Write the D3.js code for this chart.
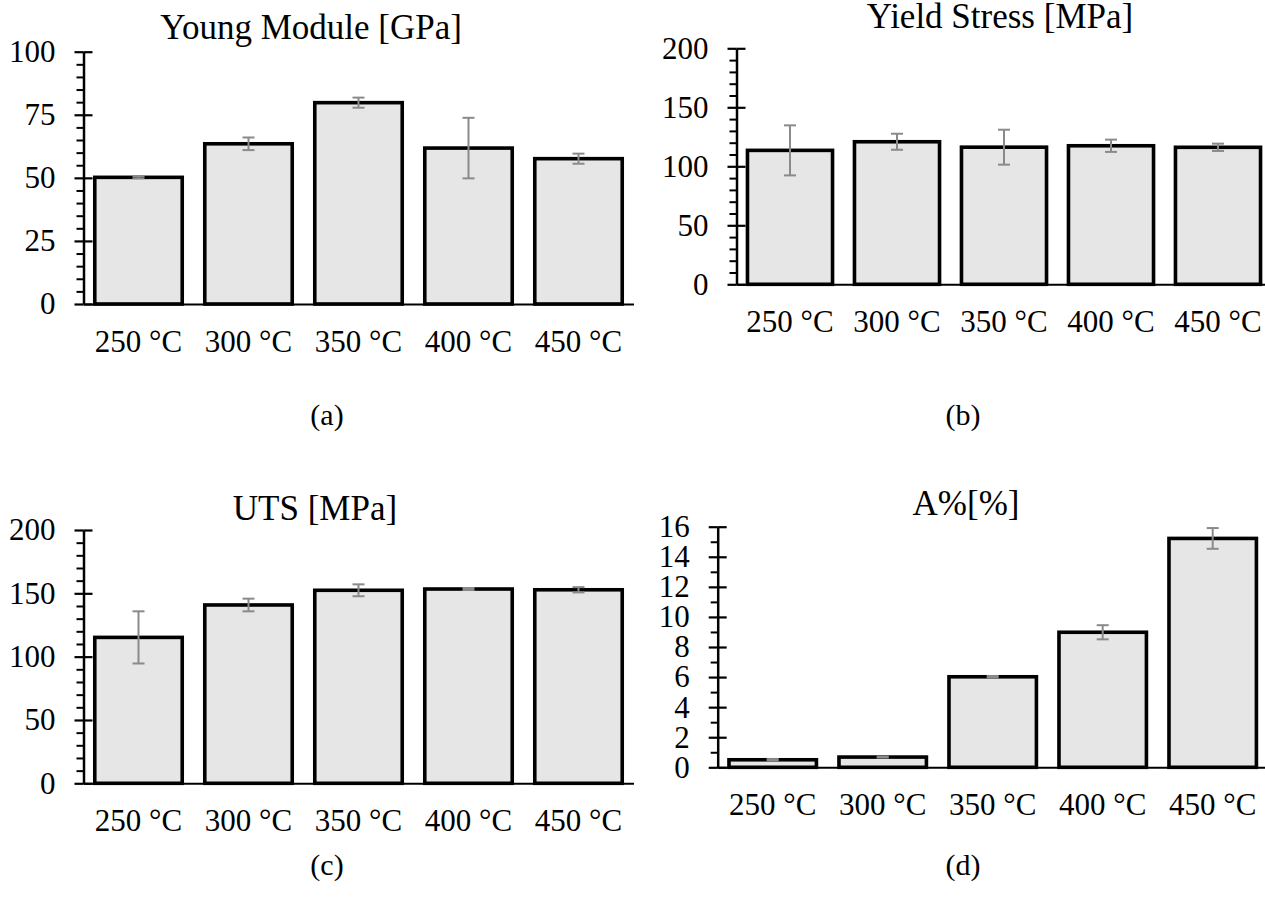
<!DOCTYPE html>
<html><head><meta charset="utf-8">
<script src="https://cdn.jsdelivr.net/npm/d3@7"></script>
<style>
html,body{margin:0;padding:0;background:#fff;}
svg{display:block;}
text{font-family:"Liberation Serif","Times New Roman",serif;fill:#000;}
</style></head>
<body>
<svg id="c" width="1265" height="913"></svg>
<script>
const categories = ["250 °C","300 °C","350 °C","400 °C","450 °C"];

const youngValues = [50.2, 63.5, 79.8, 61.8, 57.6];
const youngErrors = [0.4, 2.5, 2.0, 12.0, 2.0];
const youngTicks = [0, 25, 50, 75, 100];

const yieldValues = [113.5, 120.8, 116.2, 117.4, 116.1];
const yieldErrors = [21.2, 6.8, 14.8, 5.2, 3.1];
const yieldTicks = [0, 50, 100, 150, 200];

const utsValues = [115.2, 140.8, 152.4, 153.4, 152.8];
const utsErrors = [20.6, 5.0, 4.7, 0.8, 2.1];
const utsTicks = [0, 50, 100, 150, 200];

const elongValues = [0.5, 0.68, 6.02, 8.98, 15.22];
const elongErrors = [0.05, 0.03, 0.05, 0.47, 0.69];
const elongTicks = [0, 2, 4, 6, 8, 10, 12, 14, 16];

const panels = [
  {title:"Young Module [GPa]", values:youngValues, errors:youngErrors, ticks:youngTicks, minorStep:5,
   x0:83.5, x1:633.5, y0:304, y1:51.7, titleX:311, titleY:39, caption:"(a)", capX:327, capY:425},
  {title:"Yield Stress [MPa]", values:yieldValues, errors:yieldErrors, ticks:yieldTicks, minorStep:10,
   x0:736.5, x1:1271.5, y0:284.3, y1:48.3, titleX:1000, titleY:28, caption:"(b)", capX:963, capY:425},
  {title:"UTS [MPa]", values:utsValues, errors:utsErrors, ticks:utsTicks, minorStep:10,
   x0:83.5, x1:633.5, y0:783.3, y1:530, titleX:315, titleY:520, caption:"(c)", capX:327, capY:875},
  {title:"A%[%]", values:elongValues, errors:elongErrors, ticks:elongTicks, minorStep:1,
   x0:717.7, x1:1267.7, y0:767.3, y1:526.7, titleX:966, titleY:515, caption:"(d)", capX:963, capY:875}
];

const svg = d3.select("#c");
svg.append("rect").attr("width",1265).attr("height",913).attr("fill","#fff");

panels.forEach(p => {
  const g = svg.append("g");
  const x = d3.scaleBand().domain(categories).range([p.x0, p.x1]).paddingInner(0.205).paddingOuter(0.1025);
  const ymax = p.ticks[p.ticks.length-1];
  const y = d3.scaleLinear().domain([0, ymax]).range([p.y0, p.y1]);
  const minor = d3.range(0, ymax + 1e-9, p.minorStep).filter(v => !p.ticks.some(t => Math.abs(t-v) < 1e-9));

  // bars
  g.selectAll("rect.bar").data(p.values).join("rect")
    .attr("class","bar")
    .attr("x",(d,i)=>x(categories[i]))
    .attr("width",x.bandwidth())
    .attr("y",d=>y(d))
    .attr("height",d=>y(0)-y(d))
    .attr("fill","#e6e6e6")
    .attr("stroke","#000")
    .attr("stroke-width",3.6);

  // x axis
  const xa = g.append("g").attr("transform",`translate(0,${p.y0})`)
    .call(d3.axisBottom(x).tickSize(0).tickSizeOuter(0).tickPadding(25.5));
  xa.select(".domain").attr("stroke","#000").attr("stroke-width",2);
  xa.selectAll("text").attr("font-size",31).attr("font-family",'"Liberation Serif","Times New Roman",serif');

  // y axis minor ticks (outside)
  const ym = g.append("g").attr("transform",`translate(${p.x0},0)`)
    .call(d3.axisLeft(y).tickValues(minor).tickSize(7).tickSizeOuter(0).tickFormat(""));
  ym.select(".domain").remove();
  ym.selectAll("line").attr("stroke","#000").attr("stroke-width",2);
  // major ticks inside half
  const yr = g.append("g").attr("transform",`translate(${p.x0},0)`)
    .call(d3.axisRight(y).tickValues(p.ticks).tickSize(9).tickSizeOuter(0).tickFormat(""));
  yr.select(".domain").remove();
  yr.selectAll("line").attr("stroke","#000").attr("stroke-width",2.2);
  // major ticks outside + labels + axis line
  const yl = g.append("g").attr("transform",`translate(${p.x0},0)`)
    .call(d3.axisLeft(y).tickValues(p.ticks).tickSize(9).tickSizeOuter(0).tickPadding(19).tickFormat(d3.format("d")));
  yl.select(".domain").attr("stroke","#000").attr("stroke-width",2.5);
  yl.selectAll("line").attr("stroke","#000").attr("stroke-width",2.2);
  yl.selectAll("text").attr("font-size",31).attr("font-family",'"Liberation Serif","Times New Roman",serif');

  // error bars
  const cx = i => x(categories[i]) + x.bandwidth()/2;
  const eg = g.append("g").attr("stroke","#8a8a8a").attr("stroke-width",2).attr("fill","none");
  p.values.forEach((v,i) => {
    const e = p.errors[i];
    eg.append("line").attr("x1",cx(i)).attr("x2",cx(i)).attr("y1",y(v+e)).attr("y2",y(v-e));
    eg.append("line").attr("x1",cx(i)-6).attr("x2",cx(i)+6).attr("y1",y(v+e)).attr("y2",y(v+e));
    eg.append("line").attr("x1",cx(i)-6).attr("x2",cx(i)+6).attr("y1",y(v-e)).attr("y2",y(v-e));
  });

  // title
  g.append("text").attr("x",p.titleX).attr("y",p.titleY).attr("text-anchor","middle")
    .attr("font-size",35).text(p.title);
  // caption
  svg.append("text").attr("x",p.capX).attr("y",p.capY).attr("text-anchor","middle")
    .attr("font-size",30).text(p.caption);
});
</script>
</body></html>
